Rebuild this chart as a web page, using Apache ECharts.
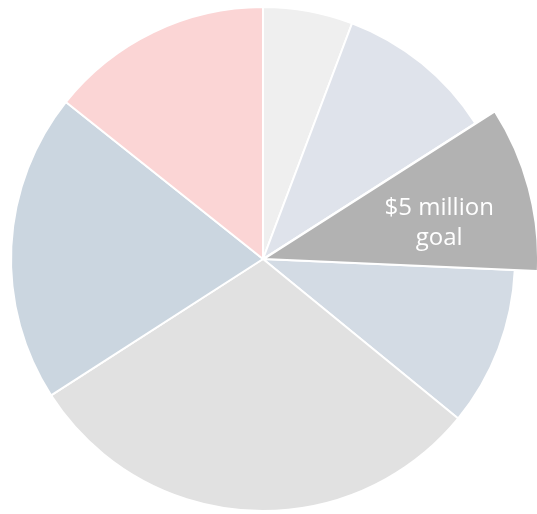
<!DOCTYPE html>
<html>
<head>
<meta charset="utf-8">
<script src="https://cdn.jsdelivr.net/npm/echarts@6/dist/echarts.min.js"></script>
<style>
  html, body { margin: 0; padding: 0; background: #ffffff; }
  #chart { width: 537px; height: 514px; }
</style>
</head>
<body>
<div id="chart"></div>
<script>
// Data (clockwise from 12 o'clock)
const categories = ['A', 'B', '$5 million\ngoal', 'D', 'E', 'F', 'G'];
const values = [5.75, 10.2, 9.75, 10.2, 30.0, 19.8, 14.3];
const colors = ['#efefef', '#dfe3eb', '#b2b2b2', '#d3dbe4', '#e1e1e1', '#cbd6e0', '#fbd5d5'];
const highlightIndex = 2;

const chart = echarts.init(document.getElementById('chart'), null, { renderer: 'canvas' });

const baseData = categories.map((c, i) => ({
  name: c,
  value: values[i],
  itemStyle: { color: colors[i] }
}));

const topData = categories.map((c, i) => ({
  name: c,
  value: values[i],
  itemStyle: i === highlightIndex
    ? { color: colors[i], borderColor: '#ffffff', borderWidth: 2 }
    : { color: 'rgba(0,0,0,0)', borderWidth: 0 },
  label: { show: i === highlightIndex }
}));

chart.setOption({
  animation: false,
  series: [
    {
      type: 'pie',
      center: [263, 259],
      radius: [0, 252],
      startAngle: 90,
      clockwise: true,
      silent: true,
      label: { show: false },
      labelLine: { show: false },
      itemStyle: { borderColor: '#ffffff', borderWidth: 2 },
      data: baseData
    },
    {
      type: 'pie',
      center: [264, 259],
      radius: [0, 274],
      startAngle: 90,
      clockwise: true,
      silent: true,
      labelLine: { show: false },
      label: {
        position: 'inside',
        color: '#ffffff',
        fontFamily: 'Open Sans',
        fontSize: 24,
        lineHeight: 30,
        align: 'center',
        offset: [40, 0],
        formatter: '{b}'
      },
      data: topData
    }
  ]
});
</script>
</body>
</html>
